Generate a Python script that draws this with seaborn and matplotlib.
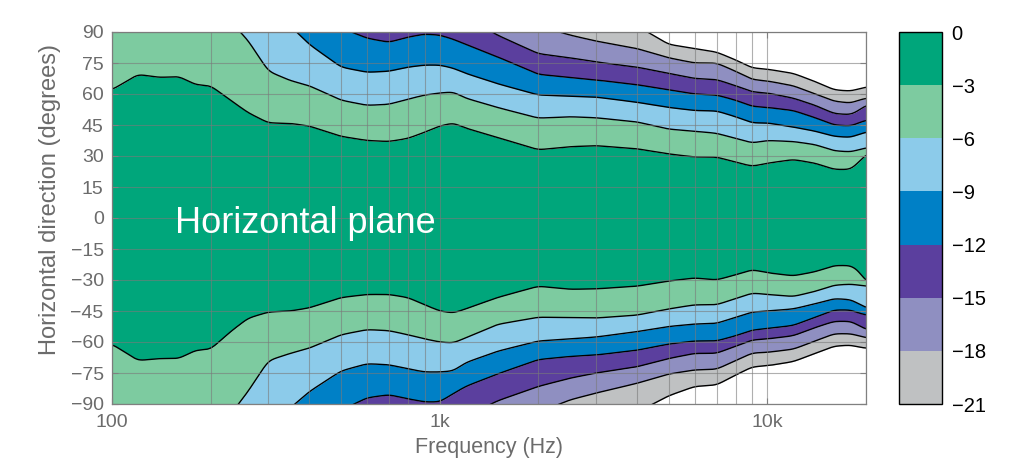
import numpy as np
import matplotlib
matplotlib.use("Agg")
import matplotlib.pyplot as plt
import seaborn as sns
from matplotlib.colors import ListedColormap, BoundaryNorm
from matplotlib.cm import ScalarMappable
from matplotlib.ticker import FixedLocator, FixedFormatter, NullFormatter, LogLocator

# ---------------- data ----------------
freqs_hz = [100, 120, 140, 160, 180, 200, 230, 260, 300, 350, 400, 500, 600, 700, 800, 900,
            1000, 1100, 1200, 1500, 2000, 2500, 3000, 4000, 5000, 6000, 7000, 8000, 9000,
            10000, 12000, 14000, 16000, 18000, 19000, 20000]

# angle (degrees) of each iso-level contour, upper half (positive directions)
upper_m3 = [62, 69.5, 68, 68.5, 64.5, 64, 57, 51, 46, 45.8, 44.5, 39.5, 37.5, 37, 38.5, 41.5,
            44.5, 46, 43.5, 39, 33, 34.5, 35, 33.5, 31, 29.5, 29.5, 27, 25, 26.5, 28.3, 26.5,
            23.5, 23.5, 27, 31]
upper_m6 = [112, 112, 110, 108, 105, 100, 95, 86, 71, 66.5, 64, 57, 54.5, 55, 57.5, 59.5,
            60.5, 61, 58, 53.5, 48.3, 49, 48.5, 46.5, 43, 42, 41, 38.5, 36.3, 37.5, 37, 35.5,
            32.5, 32, 33, 34]
upper_m9 = [125, 125, 124, 122, 120, 118, 112, 104, 97, 93, 84, 73, 70.5, 71, 73, 74,
            74, 72.5, 70, 65, 59.5, 59, 58.5, 56, 53.5, 52, 51.8, 49, 46, 46, 44, 42,
            39.5, 39, 40.5, 41.6]
upper_m12 = [135, 135, 134, 132, 130, 128, 125, 120, 115, 110, 100, 92, 87, 85, 87.5, 89,
             88.5, 86.5, 84, 78, 69.5, 68, 66.8, 64.5, 62, 60, 59.5, 57, 54, 53.5, 52, 48.5,
             45, 44.5, 46, 47.4]
upper_m15 = [145, 145, 144, 142, 140, 138, 135, 132, 128, 124, 118, 112, 106, 104, 104, 104,
             102, 100, 97, 88.5, 79.5, 77.5, 75.5, 73, 70, 67.5, 67, 64, 61, 60.5, 58, 54.5,
             50.5, 50, 52, 54.7]
upper_m18 = [155, 155, 154, 152, 150, 148, 145, 142, 138, 134, 128, 122, 118, 116, 115, 114,
             113, 112, 110, 104, 93, 88.5, 85.6, 82, 77.5, 75, 75, 71, 67, 66.3, 64, 60,
             56.5, 55.6, 57, 58]
upper_m21 = [165, 165, 164, 162, 160, 158, 155, 152, 148, 144, 138, 132, 128, 126, 125, 124,
             123, 122, 120, 115, 108, 103, 98, 93, 84, 82, 80.3, 76.5, 72.6, 72, 70, 66,
             62, 61.4, 62.5, 63.4]

# lower half (negative directions)
lower_m3 = [-61, -69, -68, -68, -64, -63.5, -55, -48.5, -45.5, -45, -43.5, -38.5, -37, -37, -38.5, -42,
            -45, -46, -44, -38.5, -33, -34.5, -34.3, -33, -30.5, -29, -30, -27.5, -25, -26.5, -28, -26,
            -23, -23, -25.5, -31]
lower_m6 = [-112, -112, -110, -108, -105, -100, -95, -84, -69, -65.5, -63, -56.5, -54, -54.5, -56.5, -58.5,
            -60, -60.5, -58, -51.5, -48, -48.2, -48.4, -47, -44, -42, -42, -39, -36.3, -37, -38, -35.5,
            -32.5, -32, -32.5, -33]
lower_m9 = [-125, -125, -124, -122, -120, -118, -112, -104, -97, -92, -84, -74, -70.5, -71, -73, -74.5,
            -74.5, -74, -70, -64.5, -59.5, -58.5, -57.6, -55, -52.5, -51.3, -51, -48, -45.5, -45, -44, -41.5,
            -39, -39.5, -41.5, -43.5]
lower_m12 = [-135, -135, -134, -132, -130, -128, -125, -120, -115, -110, -100, -93, -87, -85.5, -87.5, -89,
             -89, -85, -81.5, -75.5, -68.5, -67, -66.3, -64, -61, -59.5, -59.5, -57, -54.2, -53.5, -52, -48,
             -44.5, -44.5, -46, -47]
lower_m15 = [-145, -145, -144, -142, -140, -138, -135, -132, -128, -124, -118, -112, -106, -104, -104, -104,
             -102, -100, -96, -88.5, -81.5, -77.5, -75, -72, -68, -65.5, -65.5, -62, -59, -58.5, -57, -53,
             -50, -50, -52, -54]
lower_m18 = [-155, -155, -154, -152, -150, -148, -145, -142, -138, -134, -128, -122, -118, -116, -115, -114,
             -113, -112, -110, -104, -94, -88, -84.7, -80, -75.5, -73.5, -73.2, -69, -65.3, -65, -63.5, -59.5,
             -56, -56, -57, -58]
lower_m21 = [-165, -165, -164, -162, -160, -158, -155, -152, -148, -144, -138, -132, -128, -126, -125, -124,
             -123, -122, -120, -115, -108, -103, -98, -94, -86, -81.5, -80.8, -76, -72, -71.5, -69.5, -65.5,
             -62, -61.5, -62.5, -63]

level_db = [0, -3, -6, -9, -12, -15, -18, -21]
band_colors = ["#00a67b", "#7dcba0", "#8ccbea", "#0080c6", "#5b3f9e", "#8f8fc1", "#bfc1c2"]
x_ticks = [100, 1000, 10000]
x_tick_labels = ["100", "1k", "10k"]
y_ticks = [-90, -75, -60, -45, -30, -15, 0, 15, 30, 45, 60, 75, 90]

upper_curves = [upper_m3, upper_m6, upper_m9, upper_m12, upper_m15, upper_m18, upper_m21]
lower_curves = [lower_m3, lower_m6, lower_m9, lower_m12, lower_m15, lower_m18, lower_m21]

# ---------------- style ----------------
sns.set_theme(style="white")
plt.rcParams["font.family"] = ["Liberation Sans", "DejaVu Sans"]
label_gray = "#6b6b6b"

fig = plt.figure(figsize=(10.24, 4.7), dpi=100)
ax = fig.add_axes([112 / 1024, 66 / 470, 754 / 1024, 372 / 470])
cax = fig.add_axes([899 / 1024, 66 / 470, 43 / 1024, 372 / 470])

# smooth rendering of the contour curves along log-frequency
lf_data = np.log10(freqs_hz)
lf = np.linspace(lf_data[0], lf_data[-1], 1400)
f_fine = 10 ** lf
kern = np.exp(-0.5 * (np.arange(-24, 25) / 7.0) ** 2)
kern /= kern.sum()


def render_curve(vals):
    c = np.interp(lf, lf_data, vals)
    padded = np.pad(c, 24, mode="edge")
    return np.convolve(padded, kern, mode="valid")


up = [render_curve(v) for v in upper_curves]
lo = [render_curve(v) for v in lower_curves]

ax.fill_between(f_fine, lo[0], up[0], color=band_colors[0], lw=0, zorder=1)
for k in range(1, 7):
    ax.fill_between(f_fine, up[k - 1], up[k], color=band_colors[k], lw=0, zorder=1)
    ax.fill_between(f_fine, lo[k], lo[k - 1], color=band_colors[k], lw=0, zorder=1)

for curve in up + lo:
    sns.lineplot(x=f_fine, y=curve, ax=ax, color="black", lw=1.0, sort=False,
                 estimator=None, zorder=2)

ax.set_xscale("log")
ax.set_xlim(100, 20000)
ax.set_ylim(-90, 90)
ax.xaxis.set_major_locator(FixedLocator(x_ticks))
ax.xaxis.set_major_formatter(FixedFormatter(x_tick_labels))
ax.xaxis.set_minor_locator(LogLocator(base=10, subs=[2, 3, 4, 5, 6, 7, 8, 9]))
ax.xaxis.set_minor_formatter(NullFormatter())
ax.set_yticks(y_ticks)

ax.set_axisbelow(False)
ax.grid(True, which="both", axis="x", color="#7a7a7a", lw=0.8, alpha=0.6)
ax.grid(True, which="major", axis="y", color="#7a7a7a", lw=0.8, alpha=0.6)

ax.tick_params(axis="both", which="major", direction="in", length=4, width=0.8,
               color="#808080", labelcolor=label_gray, labelsize=14,
               bottom=True, left=True, top=True, right=True)
ax.tick_params(axis="x", which="major", pad=7)
ax.tick_params(axis="y", which="major", pad=6)
ax.tick_params(axis="x", which="minor", length=0)
for sp in ax.spines.values():
    sp.set_color("#808080")
    sp.set_linewidth(0.9)

ax.set_ylabel("Horizontal direction (degrees)", fontsize=17, color=label_gray)
ax.yaxis.set_label_coords(-0.068, 0.551)
ax.set_xlabel("Frequency (Hz)", fontsize=15.5, color=label_gray)
ax.xaxis.set_label_coords(0.5, -0.0887)

ax.text(0.084, 0.46, "Horizontal plane", transform=ax.transAxes, color="white",
        fontsize=26, va="baseline", ha="left", zorder=5)

# ---------------- colorbar ----------------
bounds = level_db[::-1]
cmap = ListedColormap(band_colors[::-1])
norm = BoundaryNorm(bounds, cmap.N)
sm = ScalarMappable(norm=norm, cmap=cmap)
cb = fig.colorbar(sm, cax=cax, ticks=level_db)
cb.outline.set_edgecolor("black")
cb.outline.set_linewidth(1.0)
cax.tick_params(length=0, labelsize=14.5, pad=7, labelcolor="black")

fig.savefig("out.png", dpi=100)
